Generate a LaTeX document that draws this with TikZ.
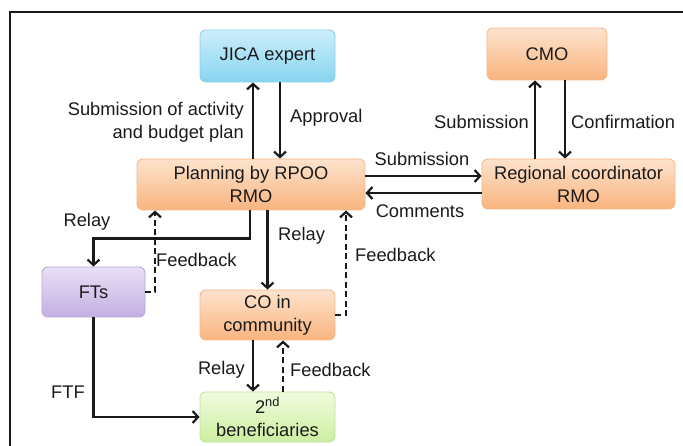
\documentclass[tikz,border=0pt]{standalone}
\usepackage{fontspec}
\setmainfont{Liberation Sans}
\usetikzlibrary{arrows.meta}

\definecolor{ink}{HTML}{1A1A1A}
\definecolor{orangetop}{HTML}{FDE3CD}
\definecolor{orangebot}{HTML}{F9B47E}
\definecolor{orangeedge}{HTML}{F4B88C}
\definecolor{bluetop}{HTML}{CDEEFA}
\definecolor{bluebot}{HTML}{86D5F1}
\definecolor{blueedge}{HTML}{8CCFE8}
\definecolor{purpletop}{HTML}{E9E0F6}
\definecolor{purplebot}{HTML}{C3AFE2}
\definecolor{purpleedge}{HTML}{B9A6D8}
\definecolor{greentop}{HTML}{F1FBDF}
\definecolor{greenbot}{HTML}{CCEFA0}
\definecolor{greenedge}{HTML}{BFE39A}

\tikzset{
  txt/.style={font=\fontsize{18.3}{23}\selectfont, text=ink},
  box/.style={txt, rounded corners=6pt, align=center, inner sep=0pt, line width=0.9pt},
  orangebox/.style={box, draw=orangeedge, top color=orangetop, bottom color=orangebot},
  bluebox/.style={box, draw=blueedge, top color=bluetop, bottom color=bluebot},
  purplebox/.style={box, draw=purpleedge, top color=purpletop, bottom color=purplebot},
  greenbox/.style={box, draw=greenedge, top color=greentop, bottom color=greenbot},
  flow/.style={draw=ink, line width=2.2pt, -{Straight Barb[length=5.5pt,width=12pt,line width=2.2pt]}},
  fb/.style={flow, dash pattern=on 6pt off 3.5pt},
  lbl/.style={txt, inner sep=0pt, align=center},
}

\begin{document}
\begin{tikzpicture}[x=1pt, y=-1pt]
  \useasboundingbox (0,0) rectangle (683,446);

  % outer frame (only its top and left edges fall inside the page)
  \draw[line width=1.8pt, ink] (10,446) -- (10,12) -- (683,12);

  % boxes
  \node[bluebox,   minimum width=135pt, minimum height=52pt] (jica) at (267.5,56)  {JICA expert};
  \node[orangebox, minimum width=228pt, minimum height=51pt] (plan) at (251,184.5) {Planning by RPOO\\RMO};
  \node[orangebox, minimum width=120pt, minimum height=52pt] (cmo)  at (547,54)    {CMO};
  \node[orangebox, minimum width=193pt, minimum height=50pt] (reg)  at (578.5,184) {Regional coordinator\\RMO};
  \node[purplebox, minimum width=103pt, minimum height=50pt] (fts)  at (93.5,292)  {FTs};
  \node[orangebox, minimum width=135pt, minimum height=50pt] (co)   at (267.5,315) {CO in\\community};
  \node[greenbox,  minimum width=135pt, minimum height=50pt] (ben)  at (267.5,417) {2\textsuperscript{nd}\\beneficiaries};

  % planning <-> JICA expert
  \draw[flow] ([xshift=2pt]plan.north) -- ([xshift=-14.5pt]jica.south);
  \draw[flow] ([xshift=12.5pt]jica.south) -- ([xshift=29pt]plan.north);

  % regional coordinator <-> CMO
  \draw[flow] ([xshift=-43.5pt]reg.north) -- ([xshift=-12pt]cmo.south);
  \draw[flow] ([xshift=18pt]cmo.south) -- ([xshift=-13.5pt]reg.north);

  % planning <-> regional coordinator
  \draw[flow] ([yshift=8.5pt]plan.east) -- ([yshift=8pt]reg.west);
  \draw[flow] ([yshift=-9pt]reg.west) -- ([yshift=-8.5pt]plan.east);

  % relays downwards
  \draw[flow] ([xshift=-1pt]plan.south) -- ++(0,28) -| (fts.north);
  \draw[flow] (co.north |- plan.south) -- (co.north);
  \draw[flow] ([xshift=-14.5pt]co.south) -- ([xshift=-14.5pt]ben.north);
  \draw[flow] (fts.south) |- (ben.west);

  % feedback upwards
  \draw[fb] (fts.east) -| ([xshift=-96pt]plan.south);
  \draw[fb] (co.east) -| ([xshift=95pt]plan.south);
  \draw[fb] ([xshift=15.5pt]ben.north) -- ([xshift=15.5pt]co.south);

  % labels
  \node[lbl, align=right, anchor=east] (lsubplan) at (244,122.5) {Submission of activity\\and budget plan};
  \node[lbl, anchor=west] (lapproval) at (290,118) {Approval};
  \node[lbl, anchor=east] (lsubcmo) at (529,122) {Submission};
  \node[lbl, anchor=west] (lconfirm) at (571,122) {Confirmation};
  \node[lbl] (lsubreg) at (422,159) {Submission};
  \node[lbl] (lcomments) at (420,211) {Comments};
  \node[lbl] (lrelayfts) at (87,222) {Relay};
  \node[lbl, anchor=west] (lrelayco) at (278,236) {Relay};
  \node[lbl, anchor=west] (lfbfts) at (156,260) {Feedback};
  \node[lbl, anchor=west] (lfbco) at (355,255) {Feedback};
  \node[lbl, anchor=east] (lrelayben) at (245,370) {Relay};
  \node[lbl, anchor=west] (lfbben) at (290,370) {Feedback};
  \node[lbl] (lftf) at (68,392) {FTF};
\end{tikzpicture}
\end{document}
